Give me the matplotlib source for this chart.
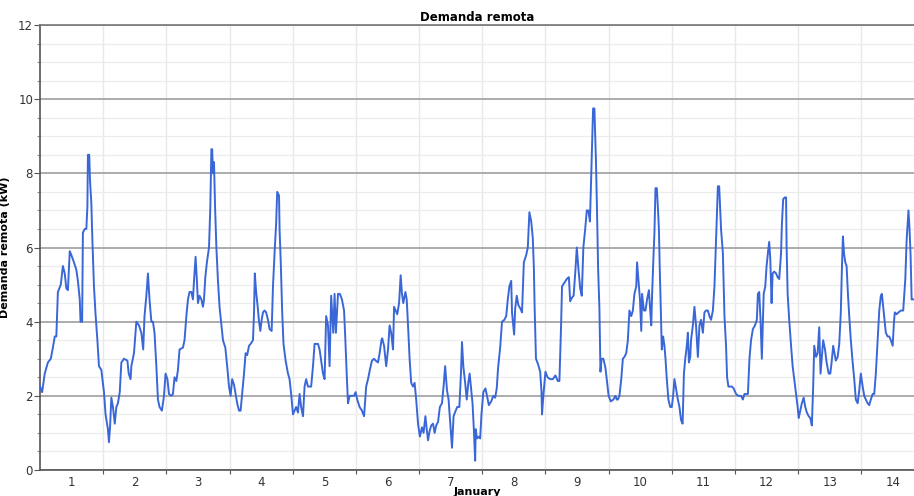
'''
Demanda remota: hourly remote demand (kW) over the first two weeks of January.
'''
import matplotlib
matplotlib.use('Agg')
import matplotlib.pyplot as plt
from matplotlib.ticker import MultipleLocator, FixedLocator

# Hours since 1 January 00:00 and the demand (kW)
hours = [
    0, 0.8, 1.8, 3.0, 4.1, 4.9, 5.6, 6.2, 6.8, 7.9, 8.7, 9.4, 10.0, 10.6, 11.3, 11.9,
    12.9, 13.8, 14.4, 15.1, 15.4, 16.0, 16.3, 17.0, 17.6, 18.0, 18.2, 18.7, 19.0, 19.5,
    19.9, 20.5, 21.1, 21.8, 22.4, 23.3, 24.3, 24.9, 25.8, 26.2, 26.6, 27.1, 27.7, 28.4,
    29.0, 29.6, 30.3, 30.9, 31.9, 33.2, 33.7, 34.4, 34.7, 35.7, 36.6, 37.6, 38.5, 39.2,
    39.7, 40.4, 41.0, 41.6, 42.3, 42.9, 43.5, 44.2, 44.8, 45.4, 46.3, 47.1, 47.7, 48.4,
    49.0, 49.9, 50.5, 51.1, 51.8, 52.4, 53.0,
    54.3, 54.9, 55.6, 56.2, 56.8, 57.5, 58.1, 58.5, 59.1, 59.6, 60.0, 60.6, 61.3, 61.9,
    62.3, 62.8, 63.4, 64.2, 64.7, 65.1, 65.4, 65.7, 66.1, 66.5, 67.0, 67.6, 68.2, 68.9,
    69.5, 70.4, 71.1, 71.8, 72.4, 73.0, 73.7, 74.3, 74.9, 75.6, 76.2, 76.8, 77.5, 78.1,
    78.7, 79.4, 80.0, 80.9, 81.3, 81.6, 82.1, 82.7, 83.2, 83.7, 84.2, 84.7, 85.3, 85.9,
    86.6, 87.2, 88.0, 88.5, 89.1, 89.7, 90.1, 90.8, 91.0, 91.5, 92.0, 92.5, 93.3, 94.2,
    94.8, 95.4, 96.1, 96.7, 97.3, 98.0, 98.6, 99.2, 99.9, 100.5, 101.1, 101.8, 103.0,
    103.7, 104.3, 105.6, 106.2, 106.8, 107.5, 108.1, 108.7,
    109.4, 110.0, 110.6, 111.4, 111.9, 112.4, 113.2, 113.9, 114.7, 115.5, 116.0, 116.5,
    117.0, 117.6, 118.3, 119.3, 119.9, 120.5, 121.4, 122.3, 123.1, 123.9, 124.6, 125.3,
    126.1, 126.9, 127.5, 128.4, 129.0, 129.7, 130.0, 130.7, 131.5, 132.2, 132.8, 133.4,
    134.1, 134.5, 135.1, 135.7, 136.4, 137.0, 137.5, 138.0, 138.8, 139.3, 139.8, 140.4,
    141.0, 141.7, 142.3, 142.9, 143.6, 144.3, 145.1, 145.7, 146.4, 146.9, 147.4, 148.0,
    148.6, 149.3, 149.9, 150.5, 151.2, 151.9, 152.7, 153.3, 153.9, 154.6, 155.2, 155.9,
    156.5, 157.1, 157.9, 158.5, 159.3, 159.9, 160.3, 160.8, 161.5, 162.1, 162.7, 163.2,
    163.8, 164.3, 164.8, 165.3,
    165.5, 166.0, 166.7, 167.2, 167.7, 168.4, 169.2, 169.8, 170.5, 171.4, 172.2, 172.9,
    173.5, 174.0, 174.8, 175.5, 176.4, 177.1, 177.7, 178.3, 179.0, 179.3, 180.1, 180.5,
    181.1, 181.7, 182.5, 183.1, 183.8, 184.7, 185.3, 185.9, 186.6, 187.2, 187.6, 187.9,
    188.4, 189.2, 190.0, 190.5, 190.7, 191.2, 192.0, 192.8, 193.8, 194.8, 195.8, 196.7,
    197.3, 197.9, 198.3, 199.2, 200.1, 200.9, 201.4, 202.1, 202.7, 203.4, 203.9, 204.5,
    205.2, 205.8, 206.4, 207.1, 207.7, 208.3, 208.9, 209.3, 209.7, 210.1, 210.6, 210.9,
    211.2, 211.6, 212.0, 212.5, 212.9, 213.3, 214.0, 214.8, 215.5, 216.0, 216.8, 217.8,
    218.6, 219.1,
    219.5, 220.1, 220.8, 221.4, 222.0, 222.7, 223.3, 223.9, 224.6, 225.2, 225.8, 226.5,
    226.8, 227.3, 227.9, 228.4, 228.7, 229.4, 230.0, 230.6, 231.3, 231.7, 232.2, 232.5,
    232.9, 233.4, 233.8, 234.3, 234.7, 235.1, 235.4, 235.8, 236.2, 236.7, 237.2, 237.6,
    238.1, 238.7, 239.4, 240.0, 240.5, 241.0, 241.7, 242.3, 242.9, 243.5, 244.1, 244.6,
    245.1, 245.7, 246.1, 246.5, 247.0, 247.3, 248.0, 248.6, 249.2, 249.9, 250.5, 251.1,
    251.8, 252.4, 253.0, 253.7, 254.3, 254.9, 255.6, 256.2, 256.8, 257.2, 257.5, 258.0,
    258.4, 258.7, 259.4, 260.0, 260.6, 261.0, 261.5, 262.2, 262.8, 263.5, 264.4, 265.3,
    266.3, 267.0, 267.6, 268.9, 269.5, 270.1, 270.8, 271.6, 272.3, 272.7, 273.2, 273.7,
    274.2,
    274.9, 275.5, 276.0, 276.5, 277.0, 277.4, 277.9, 278.3, 278.9, 279.6, 280.2, 280.8,
    281.5, 281.8, 282.3, 282.9, 283.4, 283.6, 284.0, 284.6, 285.3, 285.9, 286.5, 287.2,
    287.8, 288.2, 288.8, 289.4, 290.1, 290.7, 291.3, 292.0, 292.6, 293.2, 293.7, 294.1,
    294.8, 295.4, 296.0, 296.5, 297.0, 297.5, 298.2, 298.8, 299.6, 300.2, 300.7, 301.3,
    301.8, 302.3, 303.0, 303.6, 304.2, 304.6, 305.0, 305.4, 305.9, 306.4, 306.9, 307.4,
    308.0, 308.7, 309.3, 309.9, 310.6, 311.2, 311.8, 312.5, 313.1, 313.7, 314.4, 315.0,
    315.6, 316.3, 316.9, 317.5, 318.2, 318.8, 319.4, 319.8, 320.3, 320.8, 321.3, 322.0,
    322.6, 323.2, 323.9, 324.4, 324.7, 325.4, 326.1, 327.0, 327.9, 328.7, 329.2, 329.6,
    329.9, 330.3, 330.7, 331.1, 331.6,
]

demand_kw = [
    2.25, 2.1, 2.6, 2.9, 3.0, 3.3, 3.6, 3.6, 4.8, 5.0, 5.5, 5.3, 4.9, 4.85, 5.9, 5.8,
    5.6, 5.4, 5.1, 4.6, 4.0, 4.0, 6.4, 6.5, 6.5, 7.1, 8.5, 8.5, 7.8, 7.2,
    6.2, 4.95, 4.2, 3.5, 2.8, 2.7, 2.1, 1.5, 1.1, 0.75, 1.15, 1.95, 1.7, 1.25,
    1.7, 1.8, 2.1, 2.9, 3.0, 2.95, 2.6, 2.45, 2.8, 3.15, 4.0, 3.9, 3.7, 3.25,
    4.15, 4.7, 5.3, 4.6, 4.0, 4.0, 3.7, 2.8, 1.9, 1.7, 1.6, 2.0, 2.6, 2.45,
    2.05, 2.0, 2.05, 2.5, 2.4, 2.7, 3.25,
    3.3, 3.5, 4.15, 4.6, 4.8, 4.8, 4.6, 5.1, 5.75, 5.1, 4.5, 4.7, 4.6, 4.4,
    4.6, 5.2, 5.6, 6.0, 7.1, 8.65, 8.65, 8.0, 8.3, 7.1, 6.0, 5.1, 4.4, 3.9,
    3.5, 3.3, 2.8, 2.25, 2.0, 2.45, 2.3, 2.05, 1.8, 1.6, 1.6, 2.05, 2.6, 3.15,
    3.1, 3.35, 3.4, 3.5, 4.25, 5.3, 4.8, 4.4, 4.0, 3.75, 4.05, 4.25, 4.3, 4.25,
    4.05, 3.8, 3.75, 4.95, 5.85, 6.65, 7.5, 7.4, 6.5, 5.5, 4.25, 3.4, 2.95, 2.6,
    2.45, 2.05, 1.5, 1.6, 1.7, 1.55, 2.05, 1.7, 1.45, 2.25, 2.45, 2.25, 2.25,
    2.8, 3.4, 3.4, 3.25, 2.95, 2.6, 2.45, 4.15,
    3.9, 2.8, 4.7, 3.7, 4.75, 3.7, 4.75, 4.75, 4.6, 4.3, 3.5, 2.6,
    1.8, 2.0, 2.0, 2.0, 2.1, 1.9, 1.7, 1.6, 1.45, 2.25, 2.45, 2.7,
    2.95, 3.0, 2.95, 2.9, 3.15, 3.5, 3.55, 3.35, 2.8, 3.25, 3.9, 3.7,
    3.25, 4.4, 4.3, 4.2, 4.5, 5.25, 4.75, 4.5, 4.8, 4.6, 3.9, 3.0,
    2.35, 2.25, 2.35, 1.9, 1.25, 0.9, 1.15, 1.0, 1.45, 1.1, 0.8, 1.05,
    1.2, 1.25, 1.0, 1.2, 1.3, 1.7, 1.8, 2.25, 2.8, 2.15, 1.9, 1.2,
    0.6, 1.45, 1.6, 1.7, 1.7, 2.6, 3.45, 2.8, 2.35, 1.9, 2.35, 2.6,
    2.15, 1.8, 1.1, 0.25,
    1.1, 0.85, 0.9, 0.85, 1.5, 2.1, 2.2, 2.0, 1.75, 1.85, 2.0, 1.95,
    2.2, 2.75, 3.3, 4.0, 4.05, 4.15, 4.6, 4.95, 5.1, 4.25, 3.65, 4.35,
    4.7, 4.45, 4.35, 4.25, 5.6, 5.8, 6.0, 6.95, 6.7, 6.25, 5.45, 4.35,
    3.0, 2.85, 2.65, 2.1, 1.5, 2.0, 2.65, 2.5, 2.45, 2.45, 2.55, 2.4,
    2.4, 3.8, 4.95, 5.05, 5.15, 5.2, 4.55, 4.65, 4.7, 5.4, 6.0, 5.45,
    4.9, 4.7, 6.0, 6.5, 7.0, 7.0, 6.7, 7.7, 8.7, 9.75, 9.75, 9.05,
    8.3, 6.95, 5.45, 4.35, 2.65, 3.0, 3.0, 2.75, 2.3, 2.0, 1.85, 1.9,
    2.0, 1.9,
    1.9, 2.0, 2.45, 3.0, 3.05, 3.15, 3.5, 4.3, 4.15, 4.3, 4.75, 4.95,
    5.6, 5.15, 4.6, 3.75, 4.75, 4.3, 4.3, 4.6, 4.85, 4.4, 3.9, 4.7,
    5.5, 6.4, 7.6, 7.6, 7.1, 6.5, 5.5, 4.4, 3.25, 3.6, 3.35, 3.0,
    2.45, 1.9, 1.7, 1.7, 2.0, 2.45, 2.15, 1.9, 1.7, 1.35, 1.25, 2.6,
    3.0, 3.35, 3.7, 2.9, 3.05, 3.5, 3.9, 4.4, 3.9, 3.05, 3.9, 4.05,
    3.7, 4.25, 4.3, 4.3, 4.15, 4.05, 4.3, 4.95, 6.2, 7.0, 7.65, 7.65,
    7.0, 6.5, 5.85, 4.15, 3.35, 2.5, 2.25, 2.25, 2.25, 2.2, 2.05, 2.0,
    2.0, 1.9, 2.05, 2.05, 3.0, 3.5, 3.8, 3.9, 4.05, 4.75, 4.8, 4.05,
    3.0,
    4.75, 4.95, 5.5, 5.85, 6.15, 5.7, 4.5, 5.3, 5.35, 5.3, 5.2, 5.15,
    5.85, 6.6, 7.3, 7.35, 7.35, 6.05, 4.75, 4.05, 3.35, 2.8, 2.45, 2.05,
    1.7, 1.4, 1.6, 1.8, 1.95, 1.7, 1.55, 1.45, 1.4, 1.2, 2.25, 3.35,
    3.05, 3.15, 3.85, 2.6, 3.05, 3.5, 3.25, 2.9, 2.6, 2.6, 2.9, 3.35,
    3.15, 2.95, 3.05, 3.4, 4.25, 5.4, 6.3, 5.85, 5.6, 5.5, 4.75, 4.15,
    3.5, 2.9, 2.45, 1.9, 1.8, 2.15, 2.6, 2.25, 2.0, 1.9, 1.8, 1.75,
    1.9, 2.05, 2.05, 2.6, 3.5, 4.3, 4.7, 4.75, 4.4, 4.05, 3.7, 3.6,
    3.6, 3.5, 3.35, 4.0, 4.25, 4.2, 4.25, 4.3, 4.3, 5.15, 6.2, 6.65,
    7.0, 6.5, 5.8, 4.6, 4.6,
]

# x axis: one label per day, placed at noon
day_labels = [str(d) for d in range(1, 15)]
day_centres = [24 * i + 12 for i in range(14)]
day_starts = [24 * i for i in range(1, 14)]

fig = plt.figure(figsize=(9.14, 4.96), dpi=100)
ax = fig.add_axes([40 / 914, 26 / 496, 874 / 914, 445 / 496])

# Grid: light day separators, light half-kW lines, grey lines every 2 kW
for h in day_starts:
    ax.axvline(h, color='#e8e8e8', linewidth=1.0, zorder=0)
ax.yaxis.set_minor_locator(MultipleLocator(0.5))
ax.yaxis.set_major_locator(MultipleLocator(2))
ax.grid(True, which='minor', axis='y', color='#ececec', linewidth=0.9, zorder=0)
ax.grid(True, which='major', axis='y', color='#a6a6a6', linewidth=1.3, zorder=0)

ax.plot(hours, demand_kw, color='#3a67d8', linewidth=1.4, zorder=3)

ax.set_xlim(0, 332)
ax.set_ylim(0, 12)

ax.set_xticks(day_centres)
ax.set_xticklabels(day_labels)
ax.xaxis.set_minor_locator(FixedLocator(day_starts))
ax.tick_params(axis='x', which='major', length=0, pad=4, labelsize=8.5, colors='#333333')
ax.tick_params(axis='x', which='minor', length=3, width=0.8, color='#555555')
ax.tick_params(axis='y', which='major', length=4, width=0.8, color='#555555',
               labelsize=8.5, labelcolor='#333333', pad=1)
ax.tick_params(axis='y', which='minor', length=2, width=0.6, color='#777777')

for side in ('left', 'bottom'):
    ax.spines[side].set_color('#555555')
    ax.spines[side].set_linewidth(1.2)
ax.spines['top'].set_color('#777777')
ax.spines['top'].set_linewidth(1.2)
ax.spines['right'].set_visible(False)

ax.set_title('Demanda remota', fontsize=8.5, fontweight='bold', pad=3)
ax.set_ylabel('Demanda remota (kW)', fontsize=8, fontweight='bold', labelpad=6)
ax.set_xlabel('January', fontsize=8, fontweight='bold', labelpad=-1)

plt.savefig('out.png', dpi=100)
plt.close()
